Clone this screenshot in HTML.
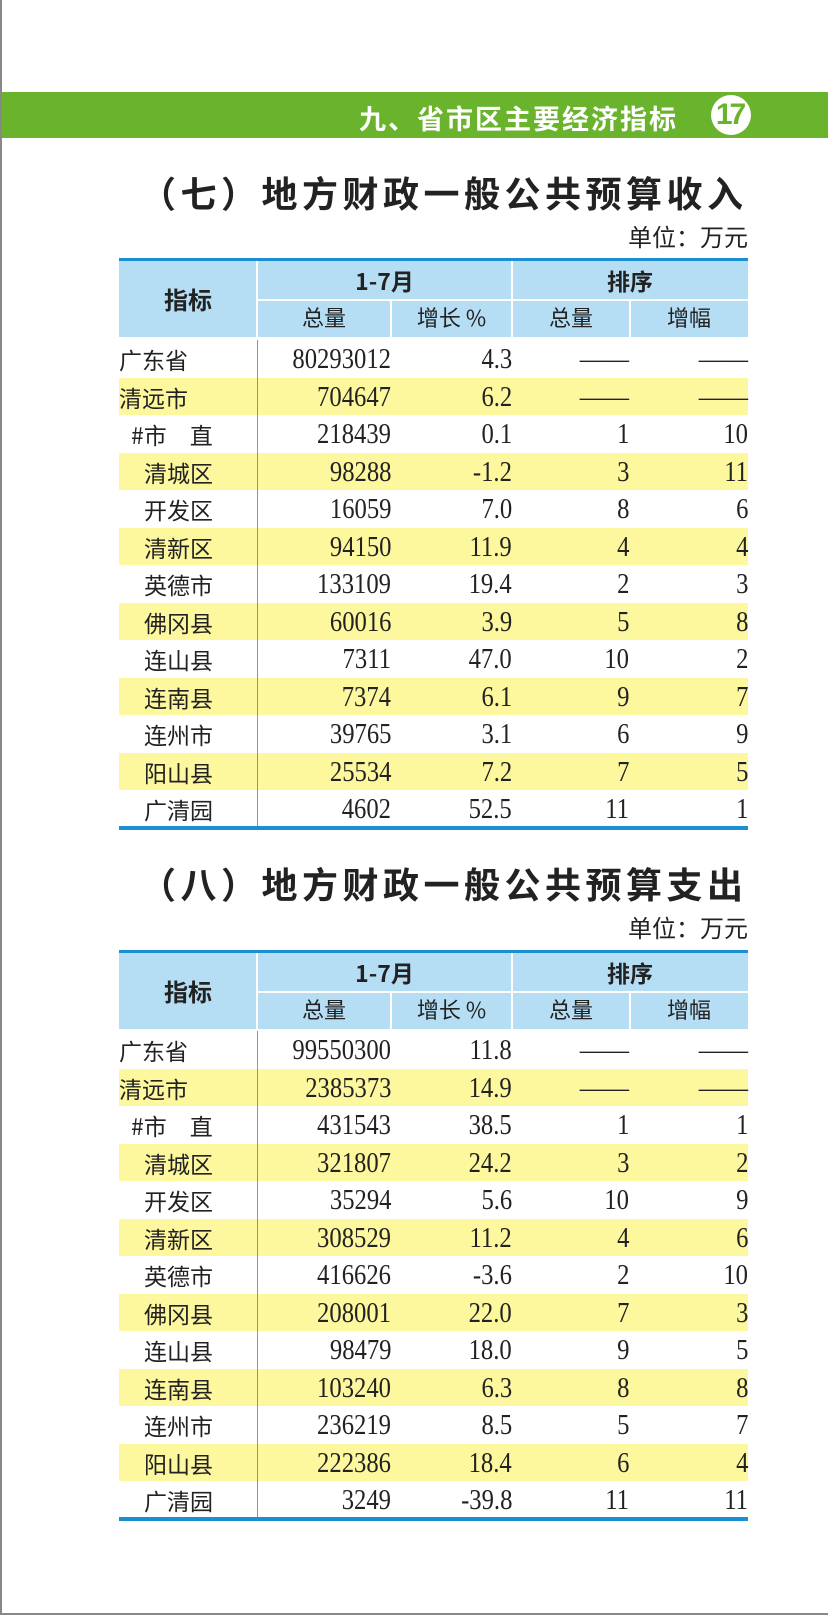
<!DOCTYPE html>
<html><head><meta charset="utf-8"><style>
*{margin:0;padding:0;box-sizing:border-box}
body{width:828px;height:1615px;position:relative;background:#fff;overflow:hidden;font-family:"Liberation Sans","Noto Sans CJK SC",sans-serif;color:#222}
.border{position:absolute;left:0;top:0;width:828px;height:1615px;border-left:2px solid #888;border-bottom:2px solid #888}
.band{position:absolute;left:2px;right:0;top:92px;height:46px;background:#6ab42d}
.band .t{position:absolute;right:150px;top:6px;color:#fff;font-weight:bold;font-size:27px;letter-spacing:2px;font-family:"Noto Sans CJK SC",sans-serif}
.band .c{position:absolute;left:709px;top:3px;width:40px;height:40px;border-radius:50%;background:#fff;color:#6ab42d;font:bold 30px/40px "Liberation Sans",sans-serif;text-align:center;letter-spacing:-3px;text-indent:-3px}
.title{position:absolute;left:140px;font-size:36px;font-weight:bold;letter-spacing:4.5px;font-family:"Noto Sans CJK SC",sans-serif;color:#222}
.unit{position:absolute;right:80px;font-size:24px;font-family:"Noto Sans CJK SC",sans-serif}
.tbl{position:absolute;left:119px;width:629px}
.hd{position:absolute;left:0;top:0;width:629px;height:79px;background:#b5def5;border-top:3px solid #1b8fd2}
.hd div{position:absolute;text-align:center;font-family:"Noto Sans CJK SC",sans-serif}
.vl{position:absolute;background:#fff;width:2px}
.row{position:absolute;left:0;width:629px;height:37.5px;font-size:24px}
.row.y{background:#fdf79d}
.row span{position:absolute;top:3px;line-height:32px}
.lab{font-family:"Noto Sans CJK SC",sans-serif;font-size:23px}
.num{font-family:"Liberation Serif",serif;font-size:29px;transform:scaleX(0.85);transform-origin:right center;text-align:right}
.bot{position:absolute;left:0;width:629px;height:4px;background:#1b8fd2}
.col{position:absolute;left:138px;width:1px;background:#4aa8dc}
</style></head><body>
<div class="border"></div>
<div class="band"><div class="t">九、省市区主要经济指标</div><div class="c">17</div></div>

<div class="title" style="top:166px">（七）地方财政一般公共预算收入</div>
<div class="unit" style="top:218px">单位：万元</div>
<div class="tbl" style="top:258px">
<div class="hd">
<div style="left:0;width:138px;top:20px;font-size:24px;font-weight:bold">指标</div>
<div style="left:138px;width:255px;top:2px;font-size:23px;font-weight:bold">1-7月</div>
<div style="left:393px;width:236px;top:2px;font-size:23px;font-weight:bold">排序</div>
<div style="left:138px;width:134px;top:40px;font-size:22px">总量</div>
<div style="left:272px;width:121px;top:40px;font-size:22px">增长 %</div>
<div style="left:393px;width:118px;top:40px;font-size:22px">总量</div>
<div style="left:511px;width:118px;top:40px;font-size:22px">增幅</div>
<div class="vl" style="left:137px;top:0;height:79px"></div>
<div class="vl" style="left:392px;top:0;height:79px"></div>
<div class="vl" style="left:271px;top:38px;height:41px"></div>
<div class="vl" style="left:510px;top:38px;height:41px"></div>
<div style="left:138px;top:38px;width:491px;height:2px;background:#fff"></div>
</div>
</div>

<div class="title" style="top:857px">（八）地方财政一般公共预算支出</div>
<div class="unit" style="top:909px">单位：万元</div>
<div class="tbl" style="top:950px">
<div class="hd">
<div style="left:0;width:138px;top:20px;font-size:24px;font-weight:bold">指标</div>
<div style="left:138px;width:255px;top:2px;font-size:23px;font-weight:bold">1-7月</div>
<div style="left:393px;width:236px;top:2px;font-size:23px;font-weight:bold">排序</div>
<div style="left:138px;width:134px;top:40px;font-size:22px">总量</div>
<div style="left:272px;width:121px;top:40px;font-size:22px">增长 %</div>
<div style="left:393px;width:118px;top:40px;font-size:22px">总量</div>
<div style="left:511px;width:118px;top:40px;font-size:22px">增幅</div>
<div class="vl" style="left:137px;top:0;height:79px"></div>
<div class="vl" style="left:392px;top:0;height:79px"></div>
<div class="vl" style="left:271px;top:38px;height:41px"></div>
<div class="vl" style="left:510px;top:38px;height:41px"></div>
<div style="left:138px;top:38px;width:491px;height:2px;background:#fff"></div>
</div>
</div>

<div class="tbl" style="top:340px">
<div class="row" style="top:0"><span class="lab" style="left:0">广东省</span><span class="num" style="right:357px">80293012</span><span class="num" style="right:236px">4.3</span><span class="num" style="right:119px">——</span><span class="num" style="right:0">——</span></div>
<div class="row y" style="top:37.5px"><span class="lab" style="left:0">清远市</span><span class="num" style="right:357px">704647</span><span class="num" style="right:236px">6.2</span><span class="num" style="right:119px">——</span><span class="num" style="right:0">——</span></div>
<div class="row" style="top:75px"><span class="lab" style="left:12px">#市　直</span><span class="num" style="right:357px">218439</span><span class="num" style="right:236px">0.1</span><span class="num" style="right:119px">1</span><span class="num" style="right:0">10</span></div>
<div class="row y" style="top:112.5px"><span class="lab" style="left:25px">清城区</span><span class="num" style="right:357px">98288</span><span class="num" style="right:236px">-1.2</span><span class="num" style="right:119px">3</span><span class="num" style="right:0">11</span></div>
<div class="row" style="top:150px"><span class="lab" style="left:25px">开发区</span><span class="num" style="right:357px">16059</span><span class="num" style="right:236px">7.0</span><span class="num" style="right:119px">8</span><span class="num" style="right:0">6</span></div>
<div class="row y" style="top:187.5px"><span class="lab" style="left:25px">清新区</span><span class="num" style="right:357px">94150</span><span class="num" style="right:236px">11.9</span><span class="num" style="right:119px">4</span><span class="num" style="right:0">4</span></div>
<div class="row" style="top:225px"><span class="lab" style="left:25px">英德市</span><span class="num" style="right:357px">133109</span><span class="num" style="right:236px">19.4</span><span class="num" style="right:119px">2</span><span class="num" style="right:0">3</span></div>
<div class="row y" style="top:262.5px"><span class="lab" style="left:25px">佛冈县</span><span class="num" style="right:357px">60016</span><span class="num" style="right:236px">3.9</span><span class="num" style="right:119px">5</span><span class="num" style="right:0">8</span></div>
<div class="row" style="top:300px"><span class="lab" style="left:25px">连山县</span><span class="num" style="right:357px">7311</span><span class="num" style="right:236px">47.0</span><span class="num" style="right:119px">10</span><span class="num" style="right:0">2</span></div>
<div class="row y" style="top:337.5px"><span class="lab" style="left:25px">连南县</span><span class="num" style="right:357px">7374</span><span class="num" style="right:236px">6.1</span><span class="num" style="right:119px">9</span><span class="num" style="right:0">7</span></div>
<div class="row" style="top:375px"><span class="lab" style="left:25px">连州市</span><span class="num" style="right:357px">39765</span><span class="num" style="right:236px">3.1</span><span class="num" style="right:119px">6</span><span class="num" style="right:0">9</span></div>
<div class="row y" style="top:412.5px"><span class="lab" style="left:25px">阳山县</span><span class="num" style="right:357px">25534</span><span class="num" style="right:236px">7.2</span><span class="num" style="right:119px">7</span><span class="num" style="right:0">5</span></div>
<div class="row" style="top:450px"><span class="lab" style="left:25px">广清园</span><span class="num" style="right:357px">4602</span><span class="num" style="right:236px">52.5</span><span class="num" style="right:119px">11</span><span class="num" style="right:0">1</span></div>
<div class="col" style="top:0;height:487px"></div>
<div class="bot" style="top:486px"></div>
</div>

<div class="tbl" style="top:1031px">
<div class="row" style="top:0"><span class="lab" style="left:0">广东省</span><span class="num" style="right:357px">99550300</span><span class="num" style="right:236px">11.8</span><span class="num" style="right:119px">——</span><span class="num" style="right:0">——</span></div>
<div class="row y" style="top:37.5px"><span class="lab" style="left:0">清远市</span><span class="num" style="right:357px">2385373</span><span class="num" style="right:236px">14.9</span><span class="num" style="right:119px">——</span><span class="num" style="right:0">——</span></div>
<div class="row" style="top:75px"><span class="lab" style="left:12px">#市　直</span><span class="num" style="right:357px">431543</span><span class="num" style="right:236px">38.5</span><span class="num" style="right:119px">1</span><span class="num" style="right:0">1</span></div>
<div class="row y" style="top:112.5px"><span class="lab" style="left:25px">清城区</span><span class="num" style="right:357px">321807</span><span class="num" style="right:236px">24.2</span><span class="num" style="right:119px">3</span><span class="num" style="right:0">2</span></div>
<div class="row" style="top:150px"><span class="lab" style="left:25px">开发区</span><span class="num" style="right:357px">35294</span><span class="num" style="right:236px">5.6</span><span class="num" style="right:119px">10</span><span class="num" style="right:0">9</span></div>
<div class="row y" style="top:187.5px"><span class="lab" style="left:25px">清新区</span><span class="num" style="right:357px">308529</span><span class="num" style="right:236px">11.2</span><span class="num" style="right:119px">4</span><span class="num" style="right:0">6</span></div>
<div class="row" style="top:225px"><span class="lab" style="left:25px">英德市</span><span class="num" style="right:357px">416626</span><span class="num" style="right:236px">-3.6</span><span class="num" style="right:119px">2</span><span class="num" style="right:0">10</span></div>
<div class="row y" style="top:262.5px"><span class="lab" style="left:25px">佛冈县</span><span class="num" style="right:357px">208001</span><span class="num" style="right:236px">22.0</span><span class="num" style="right:119px">7</span><span class="num" style="right:0">3</span></div>
<div class="row" style="top:300px"><span class="lab" style="left:25px">连山县</span><span class="num" style="right:357px">98479</span><span class="num" style="right:236px">18.0</span><span class="num" style="right:119px">9</span><span class="num" style="right:0">5</span></div>
<div class="row y" style="top:337.5px"><span class="lab" style="left:25px">连南县</span><span class="num" style="right:357px">103240</span><span class="num" style="right:236px">6.3</span><span class="num" style="right:119px">8</span><span class="num" style="right:0">8</span></div>
<div class="row" style="top:375px"><span class="lab" style="left:25px">连州市</span><span class="num" style="right:357px">236219</span><span class="num" style="right:236px">8.5</span><span class="num" style="right:119px">5</span><span class="num" style="right:0">7</span></div>
<div class="row y" style="top:412.5px"><span class="lab" style="left:25px">阳山县</span><span class="num" style="right:357px">222386</span><span class="num" style="right:236px">18.4</span><span class="num" style="right:119px">6</span><span class="num" style="right:0">4</span></div>
<div class="row" style="top:450px"><span class="lab" style="left:25px">广清园</span><span class="num" style="right:357px">3249</span><span class="num" style="right:236px">-39.8</span><span class="num" style="right:119px">11</span><span class="num" style="right:0">11</span></div>
<div class="col" style="top:0;height:487px"></div>
<div class="bot" style="top:486px"></div>
</div>
</body></html>
